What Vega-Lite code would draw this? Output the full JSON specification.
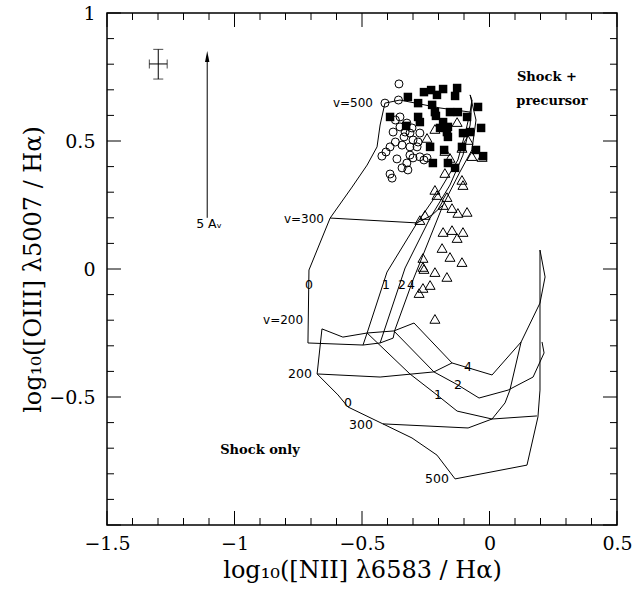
{
  "$schema": "https://vega.github.io/schema/vega-lite/v6.json",
  "width": 510,
  "height": 512,
  "autosize": {"type": "none"},
  "padding": {"left": 107, "top": 13, "right": 20, "bottom": 70},
  "background": "white",
  "config": {
    "view": {"stroke": "black", "strokeWidth": 1.5},
    "axis": {"domain": false, "ticks": false, "grid": false, "labelColor": "black", "titleColor": "black", "labelFlush": false, "labelOverlap": false}
  },
  "resolve": {"axis": {"x": "independent", "y": "independent"}},
  "datasets": {
    "lines": [
      {"s":"uB0","o":1,"x":-0.410,"y":0.648},{"s":"uB0","o":2,"x":-0.429,"y":0.5625},{"s":"uB0","o":3,"x":-0.441,"y":0.477},{"s":"uB0","o":4,"x":-0.480,"y":0.406},{"s":"uB0","o":5,"x":-0.539,"y":0.320},{"s":"uB0","o":6,"x":-0.625,"y":0.199},{"s":"uB0","o":7,"x":-0.708,"y":-0.004},{"s":"uB0","o":8,"x":-0.712,"y":-0.289},
      {"s":"uv300","o":1,"x":-0.625,"y":0.199},{"s":"uv300","o":2,"x":-0.284,"y":0.180},{"s":"uv300","o":3,"x":-0.225,"y":0.211},{"s":"uv300","o":4,"x":-0.182,"y":0.25},
      {"s":"uv200","o":1,"x":-0.712,"y":-0.289},{"s":"uv200","o":2,"x":-0.496,"y":-0.297},{"s":"uv200","o":3,"x":-0.429,"y":-0.289},{"s":"uv200","o":4,"x":-0.378,"y":-0.270},{"s":"uv200","o":5,"x":-0.371,"y":-0.238},
      {"s":"uB1","o":1,"x":-0.496,"y":-0.297},{"s":"uB1","o":2,"x":-0.480,"y":-0.25},{"s":"uB1","o":3,"x":-0.402,"y":-0.012},{"s":"uB1","o":4,"x":-0.284,"y":0.180},{"s":"uB1","o":5,"x":-0.194,"y":0.309},{"s":"uB1","o":6,"x":-0.124,"y":0.426},{"s":"uB1","o":7,"x":-0.092,"y":0.543},{"s":"uB1","o":8,"x":-0.076,"y":0.613},
      {"s":"uB2","o":1,"x":-0.429,"y":-0.289},{"s":"uB2","o":2,"x":-0.331,"y":0.004},{"s":"uB2","o":3,"x":-0.233,"y":0.199},{"s":"uB2","o":4,"x":-0.155,"y":0.328},{"s":"uB2","o":5,"x":-0.104,"y":0.445},{"s":"uB2","o":6,"x":-0.076,"y":0.5625},{"s":"uB2","o":7,"x":-0.069,"y":0.660},
      {"s":"uB4","o":1,"x":-0.371,"y":-0.238},{"s":"uB4","o":2,"x":-0.300,"y":-0.043},{"s":"uB4","o":3,"x":-0.182,"y":0.25},{"s":"uB4","o":4,"x":-0.116,"y":0.379},{"s":"uB4","o":5,"x":-0.069,"y":0.465},{"s":"uB4","o":6,"x":-0.053,"y":0.582},{"s":"uB4","o":7,"x":-0.076,"y":0.680},
      {"s":"uv500","o":1,"x":-0.410,"y":0.648},{"s":"uv500","o":2,"x":-0.351,"y":0.660},{"s":"uv500","o":3,"x":-0.194,"y":0.629},{"s":"uv500","o":4,"x":-0.076,"y":0.613},{"s":"uv500","o":5,"x":-0.069,"y":0.660},{"s":"uv500","o":6,"x":-0.076,"y":0.680},
      {"s":"p1","o":1,"x":-0.676,"y":-0.410},{"s":"p1","o":2,"x":-0.429,"y":-0.422},{"s":"p1","o":3,"x":-0.218,"y":-0.402},{"s":"p1","o":4,"x":-0.147,"y":-0.367},
      {"s":"p2","o":1,"x":-0.676,"y":-0.410},{"s":"p2","o":2,"x":-0.657,"y":-0.234},{"s":"p2","o":3,"x":-0.575,"y":-0.266},{"s":"p2","o":4,"x":-0.480,"y":-0.25},{"s":"p2","o":5,"x":-0.375,"y":-0.242},{"s":"p2","o":6,"x":-0.296,"y":-0.211},{"s":"p2","o":7,"x":-0.147,"y":-0.367},{"s":"p2","o":8,"x":0.010,"y":-0.414},{"s":"p2","o":9,"x":0.124,"y":-0.285},{"s":"p2","o":10,"x":0.198,"y":-0.133},{"s":"p2","o":11,"x":0.218,"y":-0.031},{"s":"p2","o":12,"x":0.198,"y":0.074},
      {"s":"p3","o":1,"x":-0.375,"y":-0.242},{"s":"p3","o":2,"x":-0.218,"y":-0.402},{"s":"p3","o":3,"x":-0.124,"y":-0.453},{"s":"p3","o":4,"x":-0.041,"y":-0.504},{"s":"p3","o":5,"x":0.073,"y":-0.473},{"s":"p3","o":6,"x":0.171,"y":-0.422},{"s":"p3","o":7,"x":0.214,"y":-0.328},{"s":"p3","o":8,"x":0.206,"y":-0.285},
      {"s":"p4","o":1,"x":-0.480,"y":-0.25},{"s":"p4","o":2,"x":-0.312,"y":-0.410},{"s":"p4","o":3,"x":-0.206,"y":-0.492},{"s":"p4","o":4,"x":-0.127,"y":-0.555},{"s":"p4","o":5,"x":0.010,"y":-0.586},{"s":"p4","o":6,"x":0.061,"y":-0.523},{"s":"p4","o":7,"x":0.080,"y":-0.473},{"s":"p4","o":8,"x":0.124,"y":-0.285},
      {"s":"p5","o":1,"x":-0.676,"y":-0.410},{"s":"p5","o":2,"x":-0.594,"y":-0.492},{"s":"p5","o":3,"x":-0.555,"y":-0.539},{"s":"p5","o":4,"x":-0.418,"y":-0.605},{"s":"p5","o":5,"x":-0.304,"y":-0.660},{"s":"p5","o":6,"x":-0.206,"y":-0.727},{"s":"p5","o":7,"x":-0.135,"y":-0.820},
      {"s":"p6","o":1,"x":-0.418,"y":-0.605},{"s":"p6","o":2,"x":-0.084,"y":-0.621},{"s":"p6","o":3,"x":0.010,"y":-0.586},{"s":"p6","o":4,"x":0.186,"y":-0.574},
      {"s":"p7","o":1,"x":-0.135,"y":-0.820},{"s":"p7","o":2,"x":0.147,"y":-0.766},{"s":"p7","o":3,"x":0.190,"y":-0.578},{"s":"p7","o":4,"x":0.198,"y":-0.473},{"s":"p7","o":5,"x":0.198,"y":-0.133},{"s":"p7","o":6,"x":0.198,"y":0.074}
    ],
    "points": [
      {"k":"circle","x":-0.355,"y":0.723},{"k":"circle","x":-0.410,"y":0.648},{"k":"circle","x":-0.357,"y":0.660},{"k":"circle","x":-0.369,"y":0.582},{"k":"circle","x":-0.378,"y":0.535},{"k":"circle","x":-0.351,"y":0.555},{"k":"circle","x":-0.324,"y":0.570},{"k":"circle","x":-0.335,"y":0.516},{"k":"circle","x":-0.312,"y":0.531},{"k":"circle","x":-0.300,"y":0.504},{"k":"circle","x":-0.369,"y":0.496},{"k":"circle","x":-0.390,"y":0.477},{"k":"circle","x":-0.343,"y":0.484},{"k":"circle","x":-0.312,"y":0.477},{"k":"circle","x":-0.284,"y":0.477},{"k":"circle","x":-0.406,"y":0.457},{"k":"circle","x":-0.422,"y":0.441},{"k":"circle","x":-0.363,"y":0.430},{"k":"circle","x":-0.312,"y":0.445},{"k":"circle","x":-0.300,"y":0.434},{"k":"circle","x":-0.273,"y":0.438},{"k":"circle","x":-0.257,"y":0.426},{"k":"circle","x":-0.324,"y":0.414},{"k":"circle","x":-0.343,"y":0.395},{"k":"circle","x":-0.390,"y":0.371},{"k":"circle","x":-0.382,"y":0.355},{"k":"circle","x":-0.320,"y":0.387},{"k":"circle","x":-0.245,"y":0.434},{"k":"circle","x":-0.280,"y":0.496},{"k":"circle","x":-0.273,"y":0.531},{"k":"circle","x":-0.304,"y":0.551},{"k":"circle","x":-0.331,"y":0.535},{"k":"circle","x":-0.351,"y":0.594},
      {"k":"square","x":-0.320,"y":0.672},{"k":"square","x":-0.257,"y":0.691},{"k":"square","x":-0.229,"y":0.699},{"k":"square","x":-0.206,"y":0.680},{"k":"square","x":-0.182,"y":0.703},{"k":"square","x":-0.127,"y":0.707},{"k":"square","x":-0.135,"y":0.676},{"k":"square","x":-0.280,"y":0.648},{"k":"square","x":-0.225,"y":0.641},{"k":"square","x":-0.214,"y":0.613},{"k":"square","x":-0.155,"y":0.613},{"k":"square","x":-0.124,"y":0.613},{"k":"square","x":-0.045,"y":0.633},{"k":"square","x":-0.390,"y":0.594},{"k":"square","x":-0.280,"y":0.594},{"k":"square","x":-0.210,"y":0.598},{"k":"square","x":-0.273,"y":0.574},{"k":"square","x":-0.182,"y":0.574},{"k":"square","x":-0.163,"y":0.555},{"k":"square","x":-0.088,"y":0.594},{"k":"square","x":-0.167,"y":0.535},{"k":"square","x":-0.163,"y":0.516},{"k":"square","x":-0.104,"y":0.531},{"k":"square","x":-0.033,"y":0.551},{"k":"square","x":-0.076,"y":0.535},{"k":"square","x":-0.233,"y":0.477},{"k":"square","x":-0.178,"y":0.465},{"k":"square","x":-0.108,"y":0.477},{"k":"square","x":-0.053,"y":0.465},{"k":"square","x":-0.025,"y":0.441},{"k":"square","x":-0.222,"y":0.414},{"k":"square","x":-0.163,"y":0.414},{"k":"square","x":-0.135,"y":0.395},{"k":"square","x":-0.194,"y":0.551},{"k":"square","x":-0.327,"y":0.559},
      {"k":"triangle","x":-0.214,"y":0.547},{"k":"triangle","x":-0.127,"y":0.574},{"k":"triangle","x":-0.245,"y":0.512},{"k":"triangle","x":-0.084,"y":0.504},{"k":"triangle","x":-0.175,"y":0.461},{"k":"triangle","x":-0.108,"y":0.473},{"k":"triangle","x":-0.069,"y":0.441},{"k":"triangle","x":-0.029,"y":0.4375},{"k":"triangle","x":-0.155,"y":0.434},{"k":"triangle","x":-0.175,"y":0.375},{"k":"triangle","x":-0.108,"y":0.348},{"k":"triangle","x":-0.104,"y":0.328},{"k":"triangle","x":-0.214,"y":0.309},{"k":"triangle","x":-0.206,"y":0.289},{"k":"triangle","x":-0.167,"y":0.281},{"k":"triangle","x":-0.182,"y":0.25},{"k":"triangle","x":-0.147,"y":0.238},{"k":"triangle","x":-0.124,"y":0.219},{"k":"triangle","x":-0.088,"y":0.223},{"k":"triangle","x":-0.253,"y":0.211},{"k":"triangle","x":-0.273,"y":0.191},{"k":"triangle","x":-0.182,"y":0.1445},{"k":"triangle","x":-0.147,"y":0.152},{"k":"triangle","x":-0.104,"y":0.1445},{"k":"triangle","x":-0.127,"y":0.121},{"k":"triangle","x":-0.186,"y":0.082},{"k":"triangle","x":-0.155,"y":0.047},{"k":"triangle","x":-0.108,"y":0.027},{"k":"triangle","x":-0.261,"y":0.043},{"k":"triangle","x":-0.261,"y":0.008},{"k":"triangle","x":-0.257,"y":0.0},{"k":"triangle","x":-0.214,"y":-0.012},{"k":"triangle","x":-0.167,"y":-0.031},{"k":"triangle","x":-0.233,"y":-0.0625},{"k":"triangle","x":-0.261,"y":-0.074},{"k":"triangle","x":-0.276,"y":-0.094},{"k":"triangle","x":-0.214,"y":-0.195}
    ],
    "labels": [
      {"g":"v","t":"v=500","x":-0.457,"y":0.648},
      {"g":"v","t":"v=300","x":-0.649,"y":0.195},
      {"g":"v","t":"v=200","x":-0.731,"y":-0.199},
      {"g":"n","t":"0","x":-0.708,"y":-0.0625},
      {"g":"n","t":"1","x":-0.406,"y":-0.0625},
      {"g":"n","t":"2","x":-0.343,"y":-0.0625},
      {"g":"n","t":"4","x":-0.308,"y":-0.0625},
      {"g":"n","t":"200","x":-0.743,"y":-0.410},
      {"g":"n","t":"0","x":-0.555,"y":-0.523},
      {"g":"n","t":"300","x":-0.504,"y":-0.609},
      {"g":"n","t":"500","x":-0.206,"y":-0.820},
      {"g":"n","t":"1","x":-0.202,"y":-0.492},
      {"g":"n","t":"2","x":-0.124,"y":-0.453},
      {"g":"n","t":"4","x":-0.084,"y":-0.383},
      {"g":"n","t":"5 Aᵥ","x":-1.100,"y":0.176},
      {"g":"r","t":"Shock +","x":0.225,"y":0.75},
      {"g":"r","t":"precursor","x":0.245,"y":0.656},
      {"g":"r","t":"Shock only","x":-0.900,"y":-0.707}
    ],
    "xticks": [
      {"v":-1.5,"k":"major"},{"v":-1.4,"k":"minor"},{"v":-1.3,"k":"minor"},{"v":-1.2,"k":"minor"},{"v":-1.1,"k":"minor"},
      {"v":-1.0,"k":"major"},{"v":-0.9,"k":"minor"},{"v":-0.8,"k":"minor"},{"v":-0.7,"k":"minor"},{"v":-0.6,"k":"minor"},
      {"v":-0.5,"k":"major"},{"v":-0.4,"k":"minor"},{"v":-0.3,"k":"minor"},{"v":-0.2,"k":"minor"},{"v":-0.1,"k":"minor"},
      {"v":0.0,"k":"major"},{"v":0.1,"k":"minor"},{"v":0.2,"k":"minor"},{"v":0.3,"k":"minor"},{"v":0.4,"k":"minor"},
      {"v":0.5,"k":"major"}
    ],
    "yticks": [
      {"v":-1.0,"k":"major"},{"v":-0.9,"k":"minor"},{"v":-0.8,"k":"minor"},{"v":-0.7,"k":"minor"},{"v":-0.6,"k":"minor"},
      {"v":-0.5,"k":"major"},{"v":-0.4,"k":"minor"},{"v":-0.3,"k":"minor"},{"v":-0.2,"k":"minor"},{"v":-0.1,"k":"minor"},
      {"v":0.0,"k":"major"},{"v":0.1,"k":"minor"},{"v":0.2,"k":"minor"},{"v":0.3,"k":"minor"},{"v":0.4,"k":"minor"},
      {"v":0.5,"k":"major"},{"v":0.6,"k":"minor"},{"v":0.7,"k":"minor"},{"v":0.8,"k":"minor"},{"v":0.9,"k":"minor"},
      {"v":1.0,"k":"major"}
    ],
    "err": [{"x":-1.299,"y":0.801,"xlo":-1.334,"xhi":-1.264,"ylo":0.742,"yhi":0.858}],
    "arrow": [{"x":-1.107,"ylo":0.2,"yhi":0.83}]
  },
  "layer": [
    {
      "data": {"name": "lines"},
      "mark": {"type": "line", "color": "black", "strokeWidth": 1},
      "encoding": {
        "x": {"field": "x", "type": "quantitative", "scale": {"domain": [-1.5, 0.5], "nice": false, "zero": false},
          "axis": {"orient": "bottom", "values": [-1.5, -1, -0.5, 0, 0.5], "format": "~g", "labelFont": "DejaVu Serif", "labelFontSize": 19, "labelPadding": 9, "title": "log₁₀([NII] λ6583 / Hα)", "titleFont": "DejaVu Serif", "titleFontSize": 24, "titleFontWeight": "normal", "titlePadding": 5}},
        "y": {"field": "y", "type": "quantitative", "scale": {"domain": [-1, 1], "nice": false, "zero": false},
          "axis": {"orient": "left", "values": [-0.5, 0, 0.5, 1], "format": "~g", "labelFont": "DejaVu Serif", "labelFontSize": 19, "labelPadding": 12, "title": "log₁₀([OIII] λ5007 / Hα)", "titleFont": "DejaVu Serif", "titleFontSize": 24, "titleFontWeight": "normal", "titlePadding": 3}},
        "detail": {"field": "s"},
        "order": {"field": "o", "type": "quantitative"}
      }
    },
    {
      "data": {"name": "xticks"},
      "transform": [{"filter": "datum.k == 'major'"}],
      "mark": {"type": "rule", "color": "black", "strokeWidth": 1},
      "encoding": {
        "x": {"field": "v", "type": "quantitative", "axis": null},
        "y": {"datum": -1, "type": "quantitative", "axis": null},
        "y2": {"datum": -0.9453}
      }
    },
    {
      "data": {"name": "xticks"},
      "transform": [{"filter": "datum.k == 'minor'"}],
      "mark": {"type": "rule", "color": "black", "strokeWidth": 1},
      "encoding": {
        "x": {"field": "v", "type": "quantitative", "axis": null},
        "y": {"datum": -1, "type": "quantitative", "axis": null},
        "y2": {"datum": -0.9727}
      }
    },
    {
      "data": {"name": "xticks"},
      "transform": [{"filter": "datum.k == 'major'"}],
      "mark": {"type": "rule", "color": "black", "strokeWidth": 1},
      "encoding": {
        "x": {"field": "v", "type": "quantitative", "axis": null},
        "y": {"datum": 1, "type": "quantitative", "axis": null},
        "y2": {"datum": 0.9453}
      }
    },
    {
      "data": {"name": "xticks"},
      "transform": [{"filter": "datum.k == 'minor'"}],
      "mark": {"type": "rule", "color": "black", "strokeWidth": 1},
      "encoding": {
        "x": {"field": "v", "type": "quantitative", "axis": null},
        "y": {"datum": 1, "type": "quantitative", "axis": null},
        "y2": {"datum": 0.9727}
      }
    },
    {
      "data": {"name": "yticks"},
      "transform": [{"filter": "datum.k == 'major'"}],
      "mark": {"type": "rule", "color": "black", "strokeWidth": 1},
      "encoding": {
        "y": {"field": "v", "type": "quantitative", "axis": null},
        "x": {"datum": -1.5, "type": "quantitative", "axis": null},
        "x2": {"datum": -1.4451}
      }
    },
    {
      "data": {"name": "yticks"},
      "transform": [{"filter": "datum.k == 'minor'"}],
      "mark": {"type": "rule", "color": "black", "strokeWidth": 1},
      "encoding": {
        "y": {"field": "v", "type": "quantitative", "axis": null},
        "x": {"datum": -1.5, "type": "quantitative", "axis": null},
        "x2": {"datum": -1.4725}
      }
    },
    {
      "data": {"name": "yticks"},
      "transform": [{"filter": "datum.k == 'major'"}],
      "mark": {"type": "rule", "color": "black", "strokeWidth": 1},
      "encoding": {
        "y": {"field": "v", "type": "quantitative", "axis": null},
        "x": {"datum": 0.5, "type": "quantitative", "axis": null},
        "x2": {"datum": 0.4451}
      }
    },
    {
      "data": {"name": "yticks"},
      "transform": [{"filter": "datum.k == 'minor'"}],
      "mark": {"type": "rule", "color": "black", "strokeWidth": 1},
      "encoding": {
        "y": {"field": "v", "type": "quantitative", "axis": null},
        "x": {"datum": 0.5, "type": "quantitative", "axis": null},
        "x2": {"datum": 0.4725}
      }
    },
    {
      "data": {"name": "points"},
      "transform": [{"filter": "datum.k == 'circle'"}],
      "mark": {"type": "point", "shape": "circle", "filled": false, "stroke": "black", "strokeWidth": 1, "size": 64, "opacity": 1},
      "encoding": {
        "x": {"field": "x", "type": "quantitative", "axis": null},
        "y": {"field": "y", "type": "quantitative", "axis": null}
      }
    },
    {
      "data": {"name": "points"},
      "transform": [{"filter": "datum.k == 'square'"}],
      "mark": {"type": "point", "shape": "square", "filled": true, "color": "black", "size": 72, "opacity": 1},
      "encoding": {
        "x": {"field": "x", "type": "quantitative", "axis": null},
        "y": {"field": "y", "type": "quantitative", "axis": null}
      }
    },
    {
      "data": {"name": "points"},
      "transform": [{"filter": "datum.k == 'triangle'"}],
      "mark": {"type": "point", "shape": "triangle-up", "filled": false, "stroke": "black", "strokeWidth": 1, "size": 100, "opacity": 1},
      "encoding": {
        "x": {"field": "x", "type": "quantitative", "axis": null},
        "y": {"field": "y", "type": "quantitative", "axis": null}
      }
    },
    {
      "data": {"name": "labels"},
      "transform": [{"filter": "datum.g == 'v'"}],
      "mark": {"type": "text", "align": "right", "baseline": "middle", "font": "DejaVu Sans", "fontSize": 12, "color": "black"},
      "encoding": {
        "x": {"field": "x", "type": "quantitative", "axis": null},
        "y": {"field": "y", "type": "quantitative", "axis": null},
        "text": {"field": "t"}
      }
    },
    {
      "data": {"name": "labels"},
      "transform": [{"filter": "datum.g == 'n'"}],
      "mark": {"type": "text", "align": "center", "baseline": "middle", "font": "DejaVu Sans", "fontSize": 12.5, "color": "black"},
      "encoding": {
        "x": {"field": "x", "type": "quantitative", "axis": null},
        "y": {"field": "y", "type": "quantitative", "axis": null},
        "text": {"field": "t"}
      }
    },
    {
      "data": {"name": "labels"},
      "transform": [{"filter": "datum.g == 'r'"}],
      "mark": {"type": "text", "align": "center", "baseline": "middle", "font": "DejaVu Serif", "fontSize": 13, "fontWeight": "bold", "color": "black"},
      "encoding": {
        "x": {"field": "x", "type": "quantitative", "axis": null},
        "y": {"field": "y", "type": "quantitative", "axis": null},
        "text": {"field": "t"}
      }
    },
    {
      "data": {"name": "err"},
      "mark": {"type": "errorbar", "ticks": {"size": 9}, "color": "black"},
      "encoding": {
        "x": {"field": "xlo", "type": "quantitative", "axis": null},
        "x2": {"field": "xhi"},
        "y": {"field": "y", "type": "quantitative", "axis": null}
      }
    },
    {
      "data": {"name": "err"},
      "mark": {"type": "errorbar", "ticks": {"size": 10}, "color": "black"},
      "encoding": {
        "y": {"field": "ylo", "type": "quantitative", "axis": null},
        "y2": {"field": "yhi"},
        "x": {"field": "x", "type": "quantitative", "axis": null}
      }
    },
    {
      "data": {"name": "arrow"},
      "mark": {"type": "rule", "color": "black", "strokeWidth": 1},
      "encoding": {
        "x": {"field": "x", "type": "quantitative", "axis": null},
        "y": {"field": "ylo", "type": "quantitative", "axis": null},
        "y2": {"field": "yhi"}
      }
    },
    {
      "data": {"name": "arrow"},
      "mark": {"type": "point", "shape": "M0,-1L0.4,1L-0.4,1Z", "filled": true, "color": "black", "size": 121, "opacity": 1},
      "encoding": {
        "x": {"field": "x", "type": "quantitative", "axis": null},
        "y": {"field": "yhi", "type": "quantitative", "axis": null}
      }
    }
  ]
}
